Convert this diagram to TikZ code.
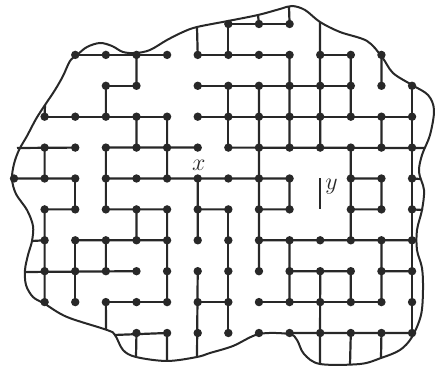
\documentclass[tikz,border=0pt]{standalone}
\usetikzlibrary{calc}
\definecolor{ink}{RGB}{40,40,40}

\begin{document}
\begin{tikzpicture}[x=0.5pt, y=-0.5pt, line width=1.1pt, color=ink,
        dot/.style={fill=ink}]
            \useasboundingbox (0,0) rectangle (435,367);

            \foreach \i in {0,...,13}
                \foreach \j in {0,...,10}
                    \coordinate (g-\i-\j) at ({14+30.62*\i}, {24+30.9*\j});

            \coordinate (n1) at (45, 105);
            \coordinate (n6) at (197, 27);
            \coordinate (n8) at (258, 15);
            \coordinate (n9) at (289, 7);
            \coordinate (n10) at (320, 22);
            \coordinate (w4) at (17, 148);
            \coordinate (w7) at (32, 241);
            \coordinate (w8) at (25, 272);
            \coordinate (w10) at (114, 335);
            \coordinate (e4) at (425, 148);
            \coordinate (e5) at (420, 179);
            \coordinate (e6) at (423, 210);
            \coordinate (s3) at (106, 329);
            \coordinate (s4) at (136, 357);
            \coordinate (s5) at (167, 361);
            \coordinate (s6) at (197, 357);
            \coordinate (s10) at (320, 364);
            \coordinate (s11) at (350, 365);
            \coordinate (s12) at (381, 358);

            \draw [line width = 1pt] plot [smooth cycle, tension = 0.55] coordinates {
                (12,179) (14,164) (19,150) (27,136) (36,119) (45,105) (55,90) (63,76) (70,61) (77,55)
                (87,47) (100,43) (112,46) (123,52) (136,53) (150,50) (167,40) (183,32) (197,27)
                (228,21) (258,15) (280,9) (292,6) (305,10) (320,22) (340,32) (367,41) (382,57)
                (393,73) (412,85) (428,95) (434,110) (430,135) (422,155) (419,172) (424,190)
                (422,210) (417,230) (417,250) (422,268) (423,290) (421,315) (412,337) (400,350)
                (381,358) (360,364) (320,364) (304,354) (297,340) (289,334) (259,334) (233,346)
                (210,353) (197,357) (167,361) (136,357) (123,350) (115,335) (107,330) (67,317)
                (45,304) (33,297) (26,285) (25,270) (28,255) (32,241) (33,226) (27,210) (16,194)};

            \draw (g-7-0) -- (g-9-0);
            \draw (g-2-1) -- (g-5-1) (g-6-1) -- (g-9-1) (g-10-1) -- (g-11-1);
            \draw (g-3-2) -- (g-4-2) (g-6-2) -- (g-11-2);
            \draw (g-1-3) -- (g-5-3) (g-6-3) -- (g-13-3);
            \draw (w4) -- (g-2-4) (g-3-4) -- (g-6-4) (g-7-4) -- (e4);
            \draw (g-0-5) -- (g-2-5) (g-3-5) -- (g-9-5) (g-11-5) -- (g-12-5) (g-13-5) -- (e5);
            \draw (g-1-6) -- (g-2-6) (g-3-6) -- (g-5-6) (g-6-6) -- (g-7-6) (g-8-6) -- (g-9-6)
                  (g-11-6) -- (g-12-6) (g-13-6) -- (e6);
            \draw (w7) -- (g-1-7) (g-2-7) -- (g-5-7) (g-8-7) -- (g-13-7);
            \draw (w8) -- (g-4-8) (g-9-8) -- (g-11-8) (g-12-8) -- (g-13-8);
            \draw (g-3-9) -- (g-5-9) (g-6-9) -- (g-7-9) (g-8-9) -- (g-12-9);
            \draw (w10) -- (g-5-10) (g-9-10) -- (g-13-10);

            \draw (n1) -- (g-1-3) (g-1-4) -- (g-1-5) (g-1-6) -- (g-1-9);
            \draw (g-2-5) -- (g-2-6) (g-2-7) -- (g-2-9);
            \draw (g-3-2) -- (g-3-3) (g-3-4) -- (g-3-6) (g-3-7) -- (g-3-8) (g-3-9) -- (s3);
            \draw (g-4-1) -- (g-4-2) (g-4-3) -- (g-4-4) (g-4-6) -- (g-4-7) (g-4-10) -- (s4);
            \draw (g-5-3) -- (g-5-5) (g-5-6) -- (g-5-9) (g-5-10) -- (s5);
            \draw (n6) -- (g-6-1) (g-6-5) -- (g-6-7) (g-6-8) -- (s6);
            \draw (g-7-0) -- (g-7-1) (g-7-2) -- (g-7-4) (g-7-6) -- (g-7-10);
            \draw (n8) -- (g-8-0) (g-8-2) -- (g-8-8);
            \draw (n9) -- (g-9-0) (g-9-1) -- (g-9-4) (g-9-5) -- (g-9-6) (g-9-7) -- (g-9-9);
            \draw (n10) -- (g-10-4) (g-10-8) -- (s10);
            \draw (g-11-1) -- (g-11-3) (g-11-4) -- (g-11-7) (g-11-8) -- (g-11-9) (g-11-10) -- (s11);
            \draw (g-12-1) -- (g-12-2) (g-12-3) -- (g-12-4) (g-12-5) -- (g-12-6) (g-12-7) -- (g-12-9)
                  (g-12-10) -- (s12);
            \draw (g-13-2) -- (g-13-10);

            \draw (g-10-5) -- (g-10-6);
            \node [anchor = west, inner sep = 1pt, font = \large] (ylab) at ($(g-10-5)+(2,8)$) {$y$};
            \node [anchor = base, inner sep = 0pt, font = \large] (xlab) at ($(g-6-5)+(1,-7.5)$) {$x$};

            \foreach \j/\cols in {0/{7,8,9}, 1/{2,...,12}, 2/{3,4,6,7,8,9,10,11,12,13},
                    3/{1,...,13}, 4/{1,...,13}, 5/{0,...,9,11,12,13}, 6/{1,...,9,11,12,13},
                    7/{1,...,13}, 8/{1,...,13}, 9/{1,...,13}, 10/{4,...,13}}
                \foreach \i in \cols
                    \fill [dot] (g-\i-\j) circle [radius = 2.1pt];
        \end{tikzpicture}
\end{document}
